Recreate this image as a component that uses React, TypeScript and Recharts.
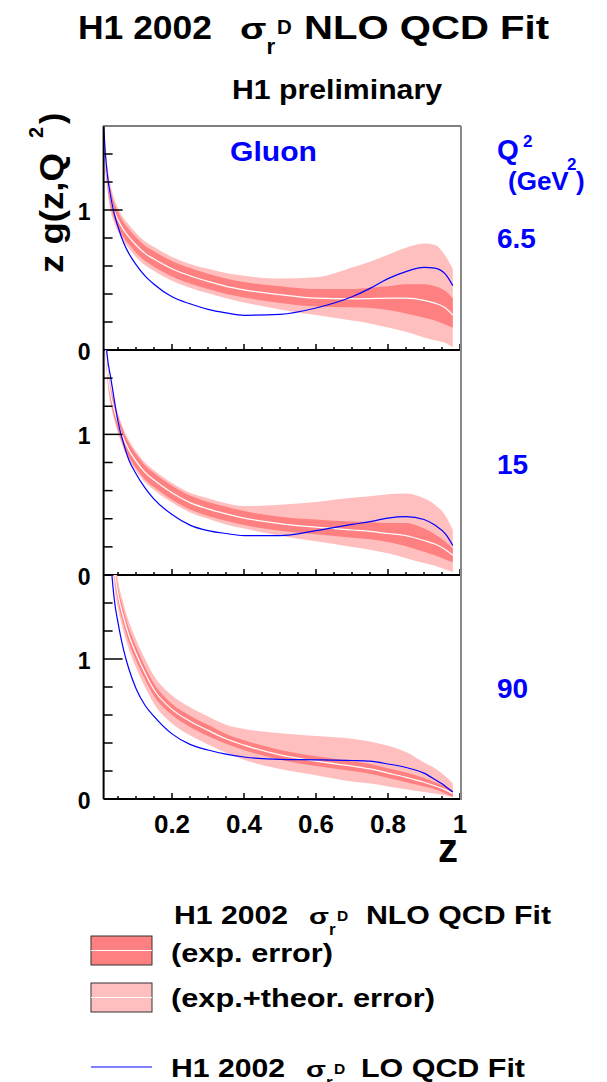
import React from 'react';
import { ComposedChart, Area, Line, XAxis, YAxis } from 'recharts';

// z grid shared by all three Q^2 bins
const zGrid = [0.01, 0.015, 0.02, 0.03, 0.04, 0.05, 0.065, 0.08, 0.1, 0.125, 0.15, 0.2, 0.25, 0.3, 0.35, 0.4, 0.5, 0.6, 0.7, 0.75, 0.8, 0.85, 0.9, 0.93, 0.96, 0.98];

// Q^2 = 6.5 GeV^2
const nlo6 = [1.55, 1.36, 1.24, 1.08, 0.99, 0.93, 0.86, 0.81, 0.75, 0.69, 0.65, 0.58, 0.53, 0.49, 0.455, 0.43, 0.395, 0.37, 0.365, 0.367, 0.37, 0.37, 0.355, 0.335, 0.3, 0.25];
const expLo6 = [1.49, 1.3, 1.18, 1.02, 0.935, 0.875, 0.805, 0.755, 0.695, 0.635, 0.595, 0.525, 0.475, 0.435, 0.4, 0.375, 0.335, 0.31, 0.305, 0.3, 0.285, 0.26, 0.23, 0.21, 0.18, 0.16];
const expHi6 = [1.61, 1.42, 1.3, 1.14, 1.045, 0.985, 0.915, 0.865, 0.805, 0.745, 0.705, 0.635, 0.585, 0.545, 0.51, 0.485, 0.455, 0.435, 0.435, 0.445, 0.455, 0.47, 0.47, 0.455, 0.42, 0.37];
const totLo6 = [1.46, 1.27, 1.15, 0.99, 0.905, 0.845, 0.775, 0.725, 0.665, 0.605, 0.565, 0.495, 0.445, 0.405, 0.37, 0.34, 0.29, 0.25, 0.21, 0.19, 0.16, 0.13, 0.09, 0.07, 0.05, 0.02];
const totHi6 = [1.64, 1.45, 1.33, 1.17, 1.075, 1.015, 0.945, 0.895, 0.835, 0.775, 0.735, 0.665, 0.615, 0.58, 0.55, 0.53, 0.51, 0.52, 0.59, 0.63, 0.68, 0.73, 0.76, 0.75, 0.67, 0.58];
const lo6 = [1.62, 1.4, 1.26, 1.09, 0.97, 0.88, 0.77, 0.69, 0.61, 0.53, 0.47, 0.38, 0.33, 0.29, 0.265, 0.248, 0.255, 0.3, 0.38, 0.44, 0.51, 0.56, 0.59, 0.585, 0.54, 0.46];

// Q^2 = 15 GeV^2
const nlo15 = [1.95, 1.65, 1.47, 1.28, 1.17, 1.08, 0.97, 0.89, 0.81, 0.73, 0.675, 0.585, 0.515, 0.47, 0.435, 0.405, 0.365, 0.34, 0.32, 0.31, 0.295, 0.28, 0.245, 0.22, 0.18, 0.14];
const expLo15 = [1.9, 1.6, 1.42, 1.23, 1.12, 1.03, 0.92, 0.84, 0.76, 0.68, 0.625, 0.535, 0.465, 0.42, 0.385, 0.355, 0.315, 0.29, 0.265, 0.255, 0.235, 0.205, 0.165, 0.14, 0.11, 0.09];
const expHi15 = [2.0, 1.7, 1.52, 1.33, 1.22, 1.13, 1.02, 0.94, 0.86, 0.78, 0.725, 0.635, 0.565, 0.52, 0.485, 0.455, 0.415, 0.395, 0.38, 0.375, 0.37, 0.37, 0.33, 0.29, 0.235, 0.19];
const totLo15 = [1.88, 1.58, 1.4, 1.21, 1.1, 1.01, 0.9, 0.82, 0.74, 0.66, 0.605, 0.515, 0.445, 0.4, 0.36, 0.33, 0.28, 0.24, 0.2, 0.18, 0.155, 0.12, 0.085, 0.065, 0.04, 0.02];
const totHi15 = [2.02, 1.72, 1.54, 1.35, 1.24, 1.15, 1.04, 0.96, 0.88, 0.8, 0.745, 0.655, 0.585, 0.545, 0.51, 0.49, 0.5, 0.52, 0.55, 0.56, 0.575, 0.58, 0.545, 0.5, 0.42, 0.32];
const lo15 = [1.95, 1.72, 1.56, 1.4, 1.24, 1.09, 0.94, 0.82, 0.72, 0.62, 0.54, 0.43, 0.355, 0.315, 0.295, 0.28, 0.28, 0.315, 0.36, 0.38, 0.405, 0.415, 0.395, 0.355, 0.29, 0.21];

// Q^2 = 90 GeV^2
const nlo90 = [3.6, 2.9, 2.45, 1.92, 1.63, 1.46, 1.3, 1.17, 1.04, 0.9, 0.78, 0.64, 0.555, 0.49, 0.43, 0.385, 0.315, 0.27, 0.235, 0.215, 0.185, 0.155, 0.12, 0.095, 0.065, 0.04];
const expLo90 = [3.55, 2.85, 2.4, 1.87, 1.58, 1.41, 1.25, 1.12, 0.99, 0.855, 0.735, 0.6, 0.515, 0.45, 0.395, 0.35, 0.28, 0.235, 0.2, 0.18, 0.15, 0.12, 0.09, 0.07, 0.04, 0.015];
const expHi90 = [3.65, 2.95, 2.5, 1.97, 1.68, 1.51, 1.35, 1.22, 1.09, 0.945, 0.825, 0.68, 0.595, 0.53, 0.465, 0.42, 0.35, 0.305, 0.27, 0.25, 0.22, 0.19, 0.15, 0.12, 0.09, 0.06];
const totLo90 = [3.45, 2.77, 2.33, 1.81, 1.52, 1.36, 1.2, 1.07, 0.94, 0.8, 0.68, 0.54, 0.455, 0.39, 0.33, 0.28, 0.215, 0.17, 0.125, 0.11, 0.09, 0.07, 0.05, 0.04, 0.025, 0.015];
const totHi90 = [3.75, 3.03, 2.57, 2.03, 1.74, 1.56, 1.4, 1.27, 1.14, 1.0, 0.88, 0.74, 0.655, 0.59, 0.53, 0.5, 0.47, 0.45, 0.43, 0.41, 0.38, 0.335, 0.26, 0.22, 0.16, 0.11];
const lo90 = [4.2, 3.1, 2.4, 1.72, 1.42, 1.26, 1.07, 0.93, 0.79, 0.67, 0.59, 0.465, 0.39, 0.35, 0.32, 0.3, 0.283, 0.28, 0.275, 0.27, 0.25, 0.225, 0.185, 0.14, 0.09, 0.05];

const q2Labels = ['6.5', '15', '90'];
const xTicks = [0.05, 0.1, 0.15, 0.2, 0.25, 0.3, 0.35, 0.4, 0.45, 0.5, 0.55, 0.6, 0.65, 0.7, 0.75, 0.8, 0.85, 0.9, 0.95, 1];
const yTicks = [0, 0.2, 0.4, 0.6, 0.8, 1, 1.2, 1.4];

const FONT = '"Liberation Sans", Arial, Helvetica, sans-serif';
const DARK = '#ff8080';
const LIGHT = '#ffbfbf';
const BLUE = '#0000ff';

const build = (nlo: number[], expLo: number[], expHi: number[], totLo: number[], totHi: number[], lo: number[]) =>
  zGrid.map((z, i) => ({ z, nlo: nlo[i], expLo: expLo[i], expHi: expHi[i], totLo: totLo[i], totHi: totHi[i], lo: lo[i] }));

const panels = [
  { data: build(nlo6, expLo6, expHi6, totLo6, totHi6, lo6), top: 126, bottom: 350, labels: false },
  { data: build(nlo15, expLo15, expHi15, totLo15, totHi15, lo15), top: 350, bottom: 575, labels: false },
  { data: build(nlo90, expLo90, expHi90, totLo90, totHi90, lo90), top: 575, bottom: 799, labels: true },
];

const XTick = (props: any) => {
  const { x, y, payload, showLabel } = props;
  const v = payload.value;
  const major = Math.abs(v * 5 - Math.round(v * 5)) < 1e-6;
  return (
    <g>
      <line x1={x} x2={x} y1={y} y2={y - (major ? 6 : 3)} stroke="#000" strokeWidth={1.5} />
      {showLabel && major && (
        <text x={x} y={y + 34} textAnchor="middle" fontFamily={FONT} fontWeight="bold" fontSize={26} fill="#000">
          {String(Math.round(v * 10) / 10)}
        </text>
      )}
    </g>
  );
};

const YTick = (props: any) => {
  const { x, y, payload } = props;
  const v = payload.value;
  const major = Math.abs(v - Math.round(v)) < 1e-6;
  return (
    <g>
      <line x1={x} x2={x + (major ? 19 : 9)} y1={y} y2={y} stroke="#000" strokeWidth={1.5} />
      {major && (
        <text x={x - 13} y={y + 10} textAnchor="end" fontFamily={FONT} fontWeight="bold" fontSize={23} fill="#000">
          {String(Math.round(v))}
        </text>
      )}
    </g>
  );
};

// "H1 2002  sigma_r^D ... QCD Fit"
const FitLabel = ({ x, y, size, head, tail, headLen, tailLen, sigmaX, tailX }: any) => (
  <g fontFamily={FONT} fontWeight="bold" fill="#000">
    <text x={x} y={y} fontSize={size} textLength={headLen} lengthAdjust="spacingAndGlyphs">{head}</text>
    <text x={sigmaX} y={y} fontSize={size * 0.9} textLength={size * 0.8} lengthAdjust="spacingAndGlyphs">σ</text>
    <text x={sigmaX + size * 0.8} y={y + size * 0.45} fontSize={size * 0.68}>r</text>
    <text x={sigmaX + size * 1.12} y={y - size * 0.14} fontSize={size * 0.62}>D</text>
    <text x={tailX} y={y} fontSize={size} textLength={tailLen} lengthAdjust="spacingAndGlyphs">{tail}</text>
  </g>
);

export default function App() {
  return (
    <div style={{ position: 'absolute', left: 0, top: 0, width: 607, height: 1082, background: '#fff', overflow: 'hidden' }}>
      {panels.map((p, i) => {
        const axisH = p.labels ? 50 : 20;
        const h = 4 + (p.bottom - p.top) + axisH;
        return (
          <div key={i} style={{ position: 'absolute', left: 0, top: p.top - 4 }}>
            <ComposedChart width={607} height={h} data={p.data} margin={{ top: 4, right: 147, bottom: 0, left: 43.6 }}>
              <XAxis
                dataKey="z"
                type="number"
                domain={[0.01, 1]}
                ticks={xTicks}
                interval={0}
                height={axisH}
                tickSize={0}
                tickMargin={0}
                tickLine={false}
                axisLine={{ stroke: '#000', strokeWidth: 2 }}
                tick={(tp: any) => <XTick {...tp} showLabel={p.labels} />}
              />
              <YAxis
                type="number"
                domain={[0, 1.6]}
                allowDataOverflow
                ticks={yTicks}
                interval={0}
                width={60}
                tickSize={0}
                tickMargin={0}
                tickLine={false}
                axisLine={{ stroke: '#000', strokeWidth: 2 }}
                tick={(tp: any) => <YTick {...tp} />}
              />
              <Area type="monotone" dataKey={(d: any) => [d.totLo, d.totHi]} fill={LIGHT} fillOpacity={1} stroke="none" isAnimationActive={false} />
              <Area type="monotone" dataKey={(d: any) => [d.expLo, d.expHi]} fill={DARK} fillOpacity={1} stroke="none" isAnimationActive={false} />
              <Line type="monotone" dataKey="nlo" stroke="#ffffff" strokeWidth={1.2} dot={false} isAnimationActive={false} />
              <Line type="monotone" dataKey="lo" stroke={BLUE} strokeWidth={1.2} dot={false} isAnimationActive={false} />
            </ComposedChart>
          </div>
        );
      })}

      <svg width={607} height={1082} style={{ position: 'absolute', left: 0, top: 0, pointerEvents: 'none' }}>
        {/* frame */}
        <line x1={103} x2={461} y1={126} y2={126} stroke="#555" strokeWidth={1.5} />
        <line x1={461} x2={461} y1={126} y2={800} stroke="#888" strokeWidth={2} />

        {/* title */}
        <FitLabel x={78} y={39} size={33} head="H1 2002" headLen={134} sigmaX={240} tail="NLO QCD Fit" tailX={304} tailLen={245} />
        <text x={232} y={99} fontFamily={FONT} fontWeight="bold" fontSize={27} textLength={210} lengthAdjust="spacingAndGlyphs">H1 preliminary</text>
        <text x={230} y={161} fontFamily={FONT} fontWeight="bold" fontSize={27} fill={BLUE} textLength={87} lengthAdjust="spacingAndGlyphs">Gluon</text>

        {/* Q^2 labels */}
        <g fontFamily={FONT} fontWeight="bold" fill={BLUE}>
          <text x={497} y={159} fontSize={28}>Q</text>
          <text x={523} y={147} fontSize={17}>2</text>
          <text x={508} y={190} fontSize={26}>(GeV</text>
          <text x={567} y={170} fontSize={17}>2</text>
          <text x={576} y={190} fontSize={26}>)</text>
          {q2Labels.map((q, i) => (
            <text key={q} x={497} y={[248, 474, 698][i]} fontSize={28}>{q}</text>
          ))}
        </g>

        {/* axis titles */}
        <g fontFamily={FONT} fontWeight="bold" fill="#000" transform="translate(63,273) rotate(-90)">
          <text x={0} y={0} fontSize={34} textLength={120} lengthAdjust="spacingAndGlyphs">z g(z,Q</text>
          <text x={135} y={-20} fontSize={20}>2</text>
          <text x={149} y={0} fontSize={34}>)</text>
        </g>
        <text x={438} y={862} fontFamily={FONT} fontWeight="bold" fontSize={40}>z</text>

        {/* legend */}
        <FitLabel x={174} y={924} size={25} head="H1 2002" headLen={114} sigmaX={309} tail="NLO QCD Fit" tailX={366} tailLen={185} />
        <rect x={91} y={936} width={61} height={29} fill={DARK} stroke="#333" strokeWidth={1} />
        <line x1={91} x2={152} y1={950.5} y2={950.5} stroke="#fff" strokeWidth={1} />
        <text x={171} y={962} fontFamily={FONT} fontWeight="bold" fontSize={25} textLength={162} lengthAdjust="spacingAndGlyphs">(exp. error)</text>
        <rect x={91} y={983} width={61} height={29} fill={LIGHT} stroke="#333" strokeWidth={1} />
        <line x1={91} x2={152} y1={997.5} y2={997.5} stroke="#fff" strokeWidth={1} />
        <text x={171} y={1007} fontFamily={FONT} fontWeight="bold" fontSize={25} textLength={264} lengthAdjust="spacingAndGlyphs">(exp.+theor. error)</text>
        <line x1={91} x2={152} y1={1067} y2={1067} stroke={BLUE} strokeWidth={1.2} />
        <FitLabel x={171} y={1077} size={25} head="H1 2002" headLen={114} sigmaX={306} tail="LO QCD Fit" tailX={361} tailLen={164} />
      </svg>
    </div>
  );
}
